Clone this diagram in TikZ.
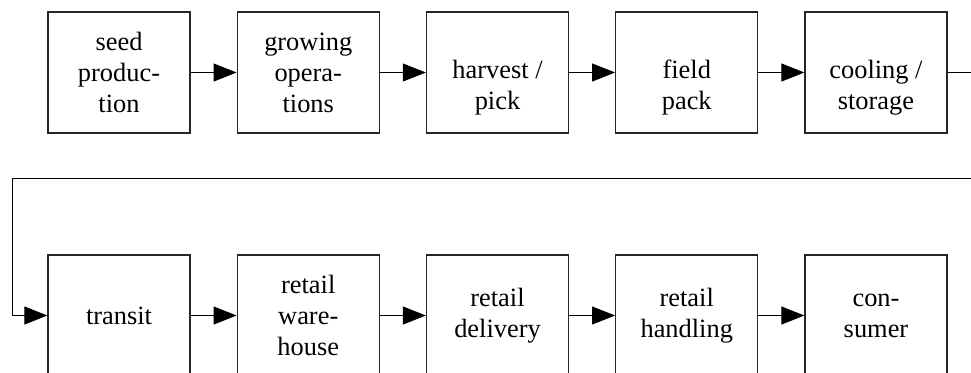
\documentclass[tikz,border=0pt]{standalone}
\usepackage{fontspec}
\setmainfont{Liberation Serif}
\usetikzlibrary{arrows.meta}
% two-line labels of the upper row sit a little below the box centre
\newcommand\lowlabel[1]{\raisebox{-7.5pt}[\height][\depth]{\begin{tabular}{@{}c@{}}#1\end{tabular}}}
\begin{document}
\begin{tikzpicture}[x=0.5pt,y=-0.5pt,
  stage/.style={draw=black!85,line width=0.65pt,rectangle,inner sep=0pt,
    minimum width=71pt,minimum height=60.5pt,align=center,
    font=\fontsize{13.2pt}{15.5pt}\selectfont},
  flow/.style={draw=black,line width=0.5pt,
    -{Triangle[length=11.5pt,width=9pt]}}]
\clip (0,0) rectangle (971,372);
\useasboundingbox (0,0) rectangle (971,372);
% top row
\node[stage] (seed) at (119,72.5) {seed\\produc-\\tion};
\node[stage] (grow) at (308.25,72.5) {growing\\opera-\\tions};
\node[stage] (harv) at (497.5,72.5) {\lowlabel{harvest /\\pick}};
\node[stage] (pack) at (686.75,72.5) {\lowlabel{field\\pack}};
\node[stage] (cool) at (876,72.5) {\lowlabel{cooling /\\storage}};
% bottom row
\node[stage] (tran) at (119,315.5) {transit};
\node[stage] (ware) at (308.25,315.5) {retail\\ware-\\house};
\node[stage] (deli) at (497.5,315.5) {retail\\delivery};
\node[stage] (hand) at (686.75,315.5) {retail\\handling};
\node[stage] (cons) at (876,315.5) {con-\\sumer};
% wrap-around route
\coordinate (r1) at (990,72.5);
\coordinate (r2) at (990,178);
\coordinate (l1) at (12,178);
\draw[flow] (seed) -- (grow);
\draw[flow] (grow) -- (harv);
\draw[flow] (harv) -- (pack);
\draw[flow] (pack) -- (cool);
\draw[flow] (cool.east) -- (r1) -- (r2) -- (l1) |- (tran.west);
\draw[flow] (tran) -- (ware);
\draw[flow] (ware) -- (deli);
\draw[flow] (deli) -- (hand);
\draw[flow] (hand) -- (cons);
\end{tikzpicture}
\end{document}
